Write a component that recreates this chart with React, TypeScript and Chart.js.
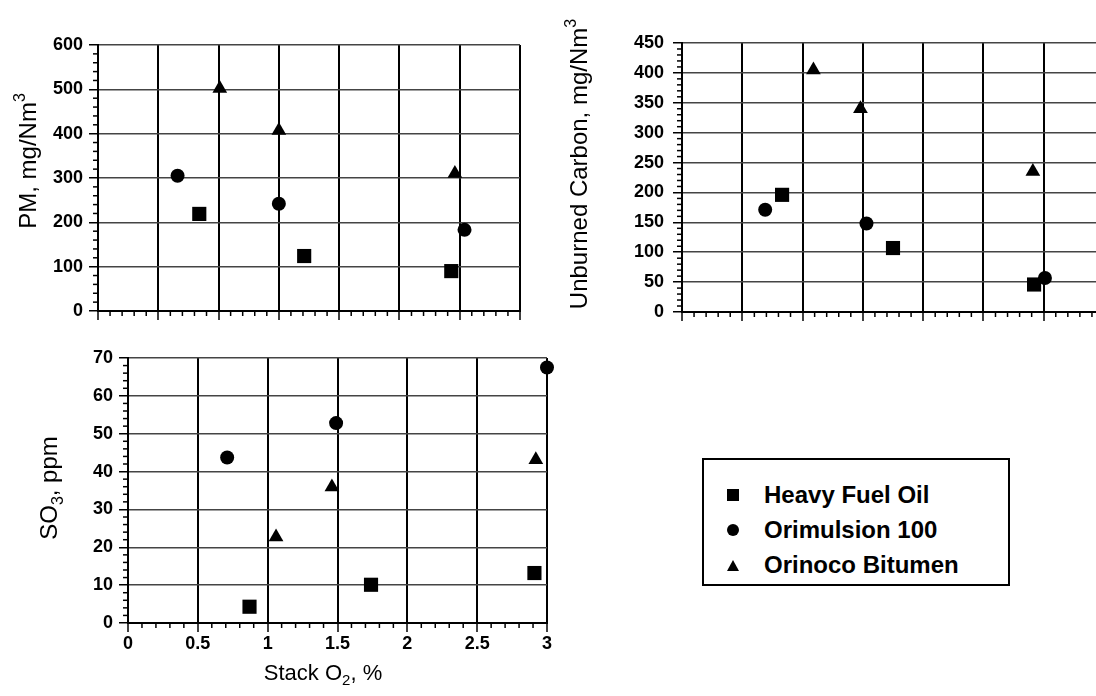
import React, { useEffect, useRef } from 'react';
import { Chart, registerables } from 'chart.js';

Chart.register(...registerables);

// ---------- data ----------
const seriesNames = ['Heavy Fuel Oil', 'Orimulsion 100', 'Orinoco Bitumen'];
const seriesStyles = ['rect', 'circle', 'triangle'];
const seriesRadius = [10, 7, 8.5];

// PM, mg/Nm3 vs stack O2
const pmHfoX = [0.84, 1.71, 2.93];
const pmHfoY = [219, 124, 90];
const pmOriX = [0.66, 1.5, 3.04];
const pmOriY = [305, 242, 183];
const pmBitX = [1.01, 1.5, 2.96];
const pmBitY = [502, 407, 310];

// Unburned carbon, mg/Nm3 vs stack O2
const ucHfoX = [0.83, 1.75, 2.92];
const ucHfoY = [196, 107, 46];
const ucOriX = [0.69, 1.53, 3.01];
const ucOriY = [171, 148, 57];
const ucBitX = [1.09, 1.48, 2.91];
const ucBitY = [405, 340, 235];

// SO3, ppm vs stack O2
const so3HfoX = [0.87, 1.74, 2.91];
const so3HfoY = [4.3, 10.1, 13.2];
const so3OriX = [0.71, 1.49, 3.0];
const so3OriY = [43.7, 52.8, 67.5];
const so3BitX = [1.06, 1.46, 2.92];
const so3BitY = [22.7, 35.9, 43.1];

// axis titles: [main text, script digit, trailing text]
const pmTitle = ['PM, mg/Nm', '3', ''];
const ucTitle = ['Unburned Carbon, mg/Nm', '3', ''];
const so3Title = ['SO', '3', ', ppm'];
const xTitle = ['Stack O', '2', ', %'];

const FONT = '"Liberation Sans", Arial, Helvetica, sans-serif';

// ---------- minor tick plugin ----------
const minorTicksPlugin = {
  id: 'minorTicks',
  afterDraw(chart: any, _args: any, opts: any) {
    const ctx = chart.ctx;
    const area = chart.chartArea;
    const xs = chart.scales.x;
    const ys = chart.scales.y;
    ctx.save();
    ctx.strokeStyle = '#000';
    ctx.lineWidth = 1.5;
    const len = opts.len || 5;
    if (opts.xStep) {
      const n = Math.round((xs.max - xs.min) / opts.xStep);
      for (let i = 0; i <= n; i++) {
        const v = xs.min + i * opts.xStep;
        const r = v / opts.xMajor;
        if (Math.abs(r - Math.round(r)) < 1e-6) continue;
        const px = xs.getPixelForValue(v);
        ctx.beginPath();
        ctx.moveTo(px, area.bottom);
        ctx.lineTo(px, area.bottom + len);
        ctx.stroke();
      }
    }
    if (opts.yStep) {
      const n = Math.round((ys.max - ys.min) / opts.yStep);
      for (let i = 0; i <= n; i++) {
        const v = ys.min + i * opts.yStep;
        const r = v / opts.yMajor;
        if (Math.abs(r - Math.round(r)) < 1e-6) continue;
        const py = ys.getPixelForValue(v);
        ctx.beginPath();
        ctx.moveTo(area.left, py);
        ctx.lineTo(area.left - len, py);
        ctx.stroke();
      }
    }
    ctx.restore();
  },
};

// ---------- axis titles with super/subscript ----------
const axisTitlesPlugin = {
  id: 'axisTitles',
  afterDraw(chart: any, _args: any, opts: any) {
    const ctx = chart.ctx;
    (opts.items || []).forEach((it: any) => {
      const size = it.size;
      const small = Math.round(size * 0.68);
      const mainFont = `normal ${size}px ${FONT}`;
      const smallFont = `normal ${small}px ${FONT}`;
      ctx.save();
      ctx.fillStyle = '#000';
      ctx.textBaseline = 'alphabetic';
      ctx.font = mainFont;
      const w0 = ctx.measureText(it.parts[0]).width;
      const w2 = ctx.measureText(it.parts[2]).width;
      ctx.font = smallFont;
      const w1 = ctx.measureText(it.parts[1]).width;
      const total = w0 + w1 + w2;
      ctx.translate(it.cx, it.cy);
      if (it.rotate) ctx.rotate(-Math.PI / 2);
      const base = size * 0.36;
      let x = -total / 2;
      ctx.font = mainFont;
      ctx.fillText(it.parts[0], x, base);
      x += w0;
      ctx.font = smallFont;
      ctx.fillText(it.parts[1], x, base + (it.sup ? -size * 0.45 : size * 0.25));
      x += w1;
      ctx.font = mainFont;
      ctx.fillText(it.parts[2], x, base);
      ctx.restore();
    });
  },
};

function makeDatasets(xsArr: number[][], ysArr: number[][]) {
  return xsArr.map((xs, s) => ({
    label: seriesNames[s],
    data: xs.map((x, i) => ({ x, y: ysArr[s][i] })),
    pointStyle: seriesStyles[s],
    pointRadius: seriesRadius[s],
    pointHoverRadius: seriesRadius[s],
    backgroundColor: '#000',
    borderColor: '#000',
    borderWidth: 0,
    showLine: false,
    clip: false,
  }));
}

interface Cfg {
  xsArr: number[][];
  ysArr: number[][];
  xMax: number;
  yMax: number;
  yStep: number;
  yMinor: number;
  showX: boolean;
  titles: any[];
  yAxisWidth: number;
  yTickPad: number;
  xAxisHeight: number;
  padding: any;
}

function buildConfig(c: Cfg): any {
  return {
    type: 'scatter',
    data: { datasets: makeDatasets(c.xsArr, c.ysArr) },
    plugins: [minorTicksPlugin, axisTitlesPlugin],
    options: {
      responsive: false,
      animation: false,
      events: [],
      layout: { padding: c.padding },
      plugins: {
        legend: { display: false },
        tooltip: { enabled: false },
        minorTicks: { xStep: 0.1, xMajor: 0.5, yStep: c.yMinor, yMajor: c.yStep, len: 5 },
        axisTitles: { items: c.titles },
      },
      scales: {
        x: {
          type: 'linear',
          min: 0,
          max: c.xMax,
          ticks: {
            stepSize: 0.5,
            display: c.showX,
            autoSkip: false,
            maxRotation: 0,
            color: '#000',
            padding: 1,
            font: { family: FONT, size: 18, weight: 'bold' },
            callback: (v: number) => String(Math.round(v * 10) / 10),
          },
          grid: { color: '#000', lineWidth: 2, tickLength: 9, tickColor: '#000', tickWidth: 1.5 },
          border: { color: '#000', width: 2 },
          title: { display: false },
          afterFit: (s: any) => {
            s.height = c.xAxisHeight;
          },
        },
        y: {
          type: 'linear',
          min: 0,
          max: c.yMax,
          ticks: {
            stepSize: c.yStep,
            autoSkip: false,
            color: '#000',
            padding: c.yTickPad,
            font: { family: FONT, size: 18, weight: 'bold' },
          },
          grid: { color: '#444', lineWidth: 1.5, tickLength: 9, tickColor: '#000', tickWidth: 1.5 },
          border: { color: '#000', width: 2 },
          title: { display: false },
          afterFit: (s: any) => {
            s.width = c.yAxisWidth;
          },
        },
      },
    },
  };
}

function ChartBox(props: { left: number; top: number; width: number; height: number; make: () => any }) {
  const ref = useRef<HTMLCanvasElement>(null);
  useEffect(() => {
    const chart = new Chart(ref.current as HTMLCanvasElement, props.make());
    return () => chart.destroy();
  }, []);
  return (
    <canvas
      ref={ref}
      width={props.width}
      height={props.height}
      style={{ position: 'absolute', left: props.left, top: props.top, width: props.width, height: props.height }}
    />
  );
}

function LegendMarker({ kind }: { kind: string }) {
  if (kind === 'rect') return <div style={{ width: 12, height: 12, background: '#000' }} />;
  if (kind === 'circle') return <div style={{ width: 12, height: 12, background: '#000', borderRadius: '50%' }} />;
  return (
    <div
      style={{
        width: 0,
        height: 0,
        borderLeft: '6px solid transparent',
        borderRight: '6px solid transparent',
        borderBottom: '11px solid #000',
      }}
    />
  );
}

function Legend() {
  const rowTops = [20, 55, 90];
  return (
    <div
      style={{
        position: 'absolute',
        left: 702,
        top: 458,
        width: 308,
        height: 128,
        border: '2px solid #000',
        boxSizing: 'border-box',
        background: '#fff',
      }}
    >
      {seriesNames.map((name, i) => (
        <div
          key={name}
          style={{
            position: 'absolute',
            left: 0,
            top: rowTops[i],
            height: 30,
            display: 'flex',
            alignItems: 'center',
          }}
        >
          <div style={{ width: 60, display: 'flex', justifyContent: 'flex-start', paddingLeft: 23, boxSizing: 'border-box' }}>
            <LegendMarker kind={seriesStyles[i]} />
          </div>
          <span style={{ fontFamily: FONT, fontWeight: 'bold', fontSize: 24, color: '#000', whiteSpace: 'nowrap' }}>{name}</span>
        </div>
      ))}
    </div>
  );
}

export default function App() {
  return (
    <div
      style={{
        position: 'fixed',
        left: 0,
        top: 0,
        width: 1096,
        height: 696,
        overflow: 'hidden',
        background: '#fff',
      }}
    >
      <ChartBox
        left={0}
        top={0}
        width={540}
        height={335}
        make={() =>
          buildConfig({
            xsArr: [pmHfoX, pmOriX, pmBitX],
            ysArr: [pmHfoY, pmOriY, pmBitY],
            xMax: 3.5,
            yMax: 600,
            yStep: 100,
            yMinor: 20,
            showX: false,
            titles: [{ parts: pmTitle, sup: true, rotate: true, cx: 27, cy: 161, size: 24 }],
            yAxisWidth: 98,
            yTickPad: 6,
            xAxisHeight: 24,
            padding: { top: 45, right: 20, left: 0, bottom: 0 },
          })
        }
      />
      <ChartBox
        left={560}
        top={0}
        width={560}
        height={335}
        make={() =>
          buildConfig({
            xsArr: [ucHfoX, ucOriX, ucBitX],
            ysArr: [ucHfoY, ucOriY, ucBitY],
            xMax: 3.5,
            yMax: 450,
            yStep: 50,
            yMinor: 10,
            showX: false,
            titles: [{ parts: ucTitle, sup: true, rotate: true, cx: 18, cy: 164, size: 24 }],
            yAxisWidth: 122,
            yTickPad: 9,
            xAxisHeight: 23,
            padding: { top: 43, right: 16, left: 0, bottom: 0 },
          })
        }
      />
      <ChartBox
        left={0}
        top={340}
        width={570}
        height={356}
        make={() =>
          buildConfig({
            xsArr: [so3HfoX, so3OriX, so3BitX],
            ysArr: [so3HfoY, so3OriY, so3BitY],
            xMax: 3,
            yMax: 70,
            yStep: 10,
            yMinor: 2,
            showX: true,
            titles: [
              { parts: so3Title, sup: false, rotate: true, cx: 48, cy: 148, size: 24 },
              { parts: xTitle, sup: false, rotate: false, cx: 323, cy: 332, size: 22 },
            ],
            yAxisWidth: 128,
            yTickPad: 6,
            xAxisHeight: 73,
            padding: { top: 18, right: 23, left: 0, bottom: 0 },
          })
        }
      />
      <Legend />
    </div>
  );
}
